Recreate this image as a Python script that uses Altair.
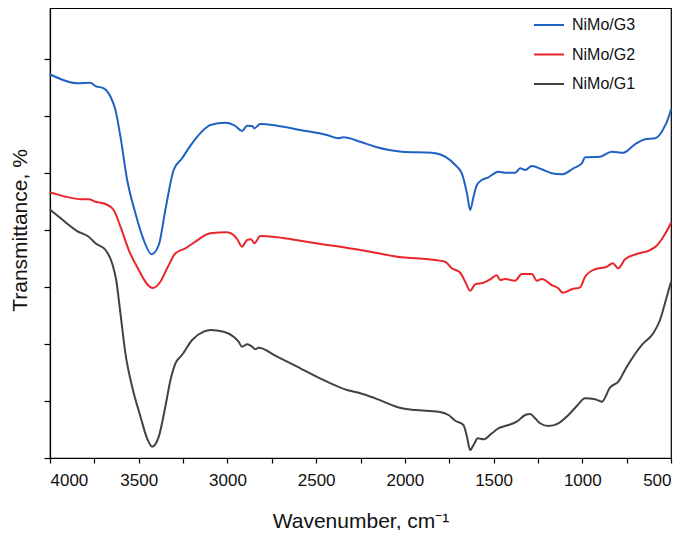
import altair as alt
import pandas as pd

# NiMo/G3 (blue)
g3_wn = [4000, 3992, 3847, 3772, 3744, 3697, 3659, 3631, 3603, 3565, 3519, 3472, 3428, 3387, 3350,
         3303, 3256, 3199, 3124, 3096, 3012, 2955, 2918, 2889, 2861, 2848, 2815, 2720, 2589, 2439,
         2375, 2347, 2251, 2167, 2017, 1848, 1773, 1716, 1679, 1650, 1632, 1613, 1594, 1566, 1529,
         1473, 1435, 1379, 1350, 1322, 1284, 1228, 1172, 1115, 1050, 1003, 984, 900, 834, 769, 703,
         646, 590, 552, 506, 500]
g3_t = [67.3, 67.19, 65.74, 65.84, 65.26, 64.86, 63.39, 61.05, 56.37, 48.77, 42.98, 38.25, 35.74, 37.37, 43.51,
        50.53, 52.58, 55.21, 57.84, 58.42, 58.83, 58.25, 57.37, 58.30, 58.25, 57.84, 58.60, 58.30, 57.54, 56.67,
        56.09, 56.26, 55.49, 54.61, 53.74, 53.56, 52.86, 51.40, 49.95, 46.44, 43.51, 45.84, 47.89, 48.77, 49.25,
        50.23, 50.05, 50.05, 50.82, 50.53, 51.23, 50.65, 49.95, 49.77, 50.82, 51.70, 52.75, 52.86, 53.74, 53.56, 55.04,
        55.91, 56.09, 57.25, 60.47, 61.2]

# NiMo/G2 (red)
g2_wn = [4000, 3992, 3913, 3819, 3782, 3744, 3687, 3641, 3603, 3556, 3500, 3453, 3421, 3378, 3340,
         3293, 3237, 3181, 3124, 3096, 3002, 2965, 2942, 2918, 2889, 2867, 2848, 2815, 2720, 2589,
         2439, 2364, 2251, 2167, 2017, 1867, 1773, 1735, 1688, 1660, 1632, 1604, 1557, 1519, 1482,
         1463, 1435, 1379, 1341, 1284, 1256, 1228, 1172, 1135, 1110, 1059, 1012, 984, 928, 862,
         828, 797, 759, 693, 618, 581, 543, 506, 500]
g2_t = [46.6, 46.54, 45.84, 45.39, 45.39, 44.97, 44.56, 43.51, 40.58, 36.49, 32.98, 30.53, 29.82, 30.93, 33.28,
        35.91, 36.79, 37.95, 39.12, 39.42, 39.60, 39.12, 38.25, 37.07, 38.25, 38.37, 37.67, 38.95, 38.72, 38.12,
        37.37, 37.07, 36.49, 36.02, 35.21, 34.86, 34.44, 33.28, 32.51, 30.93, 29.35, 30.47, 30.75, 31.35, 32.05,
        31.23, 31.40, 31.11, 32.28, 32.28, 31.11, 31.40, 30.35, 29.77, 29.00, 29.60, 29.95, 31.81, 33.11, 33.56,
        34.16, 33.28, 34.86, 35.79, 36.49, 37.25, 38.82, 40.88, 41.3]

# NiMo/G1 (dark grey)
g1_wn = [4000, 3992, 3950, 3894, 3847, 3782, 3744, 3687, 3650, 3627, 3603, 3575, 3537, 3490, 3453,
         3424, 3387, 3350, 3321, 3293, 3256, 3199, 3134, 3096, 3021, 2965, 2937, 2918, 2889, 2861,
         2843, 2824, 2720, 2589, 2439, 2326, 2251, 2167, 2017, 1942, 1810, 1754, 1716, 1670, 1650,
         1632, 1613, 1589, 1557, 1510, 1473, 1435, 1369, 1322, 1294, 1266, 1238, 1191, 1135, 1078,
         1031, 984, 928, 890, 843, 797, 749, 665, 600, 562, 534, 500]
g1_t = [43.6, 43.39, 42.33, 40.88, 39.82, 38.82, 37.67, 36.49, 34.16, 31.23, 25.39, 18.37, 12.51, 7.25, 3.46,
        1.98, 3.74, 9.00, 13.68, 16.61, 18.07, 20.70, 22.16, 22.46, 22.16, 21.28, 20.40, 19.53, 19.95, 19.53,
        19.07, 19.35, 17.77, 15.74, 13.39, 11.93, 11.35, 10.47, 8.72, 8.42, 8.12, 7.54, 6.54, 5.79, 3.74,
        1.40, 2.28, 3.46, 3.28, 4.33, 5.21, 5.61, 6.37, 7.54, 7.72, 6.96, 6.09, 5.61, 6.09, 7.54,
        9.12, 10.47, 10.30, 9.88, 12.40, 13.39, 16.02, 19.82, 21.88, 24.21, 27.14, 30.93]

series_names = ["NiMo/G3", "NiMo/G2", "NiMo/G1"]
series_colors = ["#1F62C4", "#E8262B", "#424242"]
x_ticks = list(range(500, 4001, 250))
y_ticks = [0, 10, 20, 30, 40, 50, 60, 70]

rows = []
for name, wn, tt in zip(series_names, [g3_wn, g2_wn, g1_wn], [g3_t, g2_t, g1_t]):
    for i, (w, t) in enumerate(zip(wn, tt)):
        rows.append({"series": name, "wn": w, "t": t, "order": i})
df = pd.DataFrame(rows)

chart = alt.Chart(df).mark_line(strokeWidth=2, interpolate="monotone").encode(
    x=alt.X("wn:Q",
            scale=alt.Scale(domain=[500, 4000], reverse=True, nice=False, zero=False),
            axis=alt.Axis(values=x_ticks, format="d",
                          labelExpr="datum.value % 500 == 0 ? datum.label : ''",
                          title="Wavenumber, cm⁻¹", titleFontSize=21, titleFontWeight="normal",
                          labelFontSize=17, tickSize=5, labelPadding=9,
                          titleY=63, titleBaseline="middle", grid=False)),
    y=alt.Y("t:Q",
            scale=alt.Scale(domain=[0, 78.95], nice=False, zero=False),
            axis=alt.Axis(values=y_ticks, labels=False, title="Transmittance, %",
                          titleFontSize=21, titleFontWeight="normal", tickSize=6,
                          titleX=-30, titleY=222, titleBaseline="middle", grid=False)),
    color=alt.Color("series:N",
                    scale=alt.Scale(domain=series_names, range=series_colors),
                    legend=alt.Legend(title=None, orient="none", legendX=483, legendY=1,
                                      symbolType="stroke", symbolSize=900, symbolStrokeWidth=2,
                                      labelFontSize=16, labelOffset=7, rowPadding=5.5, padding=0,
                                      labelColor="#111111")),
    order="order:Q",
).properties(
    width=621, height=450,
    autosize=alt.AutoSizeParams(type="none"),
    padding={"left": 42, "top": 0, "right": 6, "bottom": 72},
).configure(
    font="Liberation Sans",
).configure_axis(
    domainColor="#000000", tickColor="#000000", labelColor="#111111", titleColor="#111111",
    labelFont="Liberation Sans", titleFont="Liberation Sans", domainWidth=1.2, tickWidth=1.2,
).configure_view(
    stroke="#000000", strokeWidth=1.2,
).configure_legend(
    labelFont="Liberation Sans",
)

chart.save("out.html", embed_options={"renderer": "svg", "actions": False})
